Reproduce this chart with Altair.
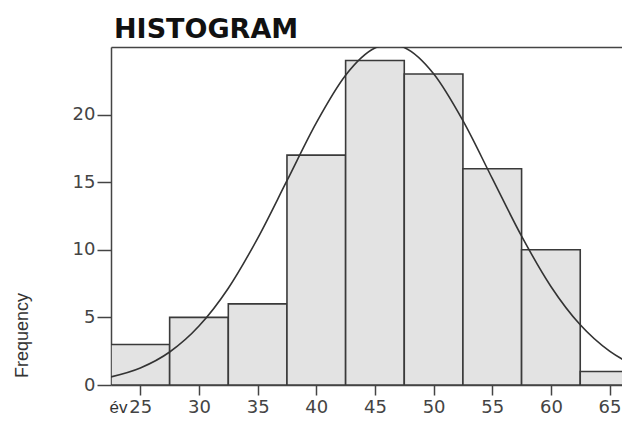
import altair as alt
import pandas as pd

# Histogram bins (age classes) and frequencies
bin_start = [22.5, 27.5, 32.5, 37.5, 42.5, 47.5, 52.5, 57.5, 62.5]
bin_end = [27.5, 32.5, 37.5, 42.5, 47.5, 52.5, 57.5, 62.5, 67.5]
counts = [3, 5, 6, 17, 24, 23, 16, 10, 1]

# Fitted normal curve
curve_x = [22.5, 25.0, 27.5, 30.0, 32.5, 35.0, 37.5, 40.0, 42.5, 45.0, 46.3,
           47.5, 50.0, 52.5, 55.0, 57.5, 60.0, 62.5, 65.0, 67.5]
curve_y = [0.60, 1.26, 2.44, 4.36, 7.16, 10.85, 15.11, 19.39, 22.91, 24.92, 25.2,
           24.96, 23.02, 19.55, 15.28, 11.01, 7.29, 4.45, 2.50, 1.29]

x_ticks = [25, 30, 35, 40, 45, 50, 55, 60, 65]
y_ticks = [0, 5, 10, 15, 20]

bars_df = pd.DataFrame({"start": bin_start, "end": bin_end, "count": counts})
curve_df = pd.DataFrame({"x": curve_x, "y": curve_y})

x_scale = alt.Scale(domain=[22.5, 66.06], nice=False, zero=False)
y_scale = alt.Scale(domain=[0, 25], nice=False)

x_axis = alt.Axis(
    values=x_ticks, grid=False, title="év", orient="bottom",
    labelFont="DejaVu Sans", labelFontSize=18, labelColor="#444",
    tickColor="#444", tickSize=10, tickWidth=1.5, labelPadding=3,
    domainColor="#444", domainWidth=1.5, labelFlush=False,
    titleFont="Liberation Sans", titleFontSize=17, titleFontWeight="normal",
    titleColor="#333", titleX=7, titleY=27, titleAlign="center",
    titleBaseline="alphabetic",
)
x_axis_top = alt.Axis(
    orient="top", grid=False, ticks=False, labels=False, title=None,
    domainColor="#444", domainWidth=1.5,
)
y_axis = alt.Axis(
    values=y_ticks, grid=False, title="Frequency",
    labelFont="DejaVu Sans", labelFontSize=18, labelColor="#444",
    tickColor="#444", tickSize=14, tickWidth=1.5, labelPadding=2,
    domainColor="#444", domainWidth=1.5,
    titleFont="Liberation Sans", titleFontSize=18, titleFontWeight="normal",
    titleColor="#333", titleAngle=270, titleX=-89, titleY=288,
    titleAlign="center", titleBaseline="middle",
)

bars = alt.Chart(bars_df).mark_rect(
    fill="#e3e3e3", stroke="#3a3a3a", strokeWidth=1.6, clip=True
).encode(
    x=alt.X("start:Q", scale=x_scale, axis=x_axis),
    x2="end:Q",
    y=alt.Y("count:Q", scale=y_scale, axis=y_axis),
    y2=alt.datum(0),
)

curve = alt.Chart(curve_df).mark_line(
    color="#333", strokeWidth=1.6, interpolate="monotone", clip=True
).encode(
    x=alt.X("x:Q", scale=x_scale, axis=x_axis_top),
    y=alt.Y("y:Q", scale=y_scale, axis=y_axis),
)

chart = alt.layer(bars, curve).properties(
    width=511, height=338,
    autosize=alt.AutoSizeParams(type="none"),
    padding={"left": 103, "top": 39, "right": 0, "bottom": 31},
    title=alt.TitleParams(
        "HISTOGRAM", anchor="start", frame="group", font="DejaVu Sans",
        fontSize=27, fontWeight="bold", color="#111", offset=8, dx=3, dy=26,
        baseline="alphabetic",
    ),
).configure_view(strokeWidth=0).configure(background="white")

chart.save("out.html", embed_options={"renderer": "svg", "actions": False})
